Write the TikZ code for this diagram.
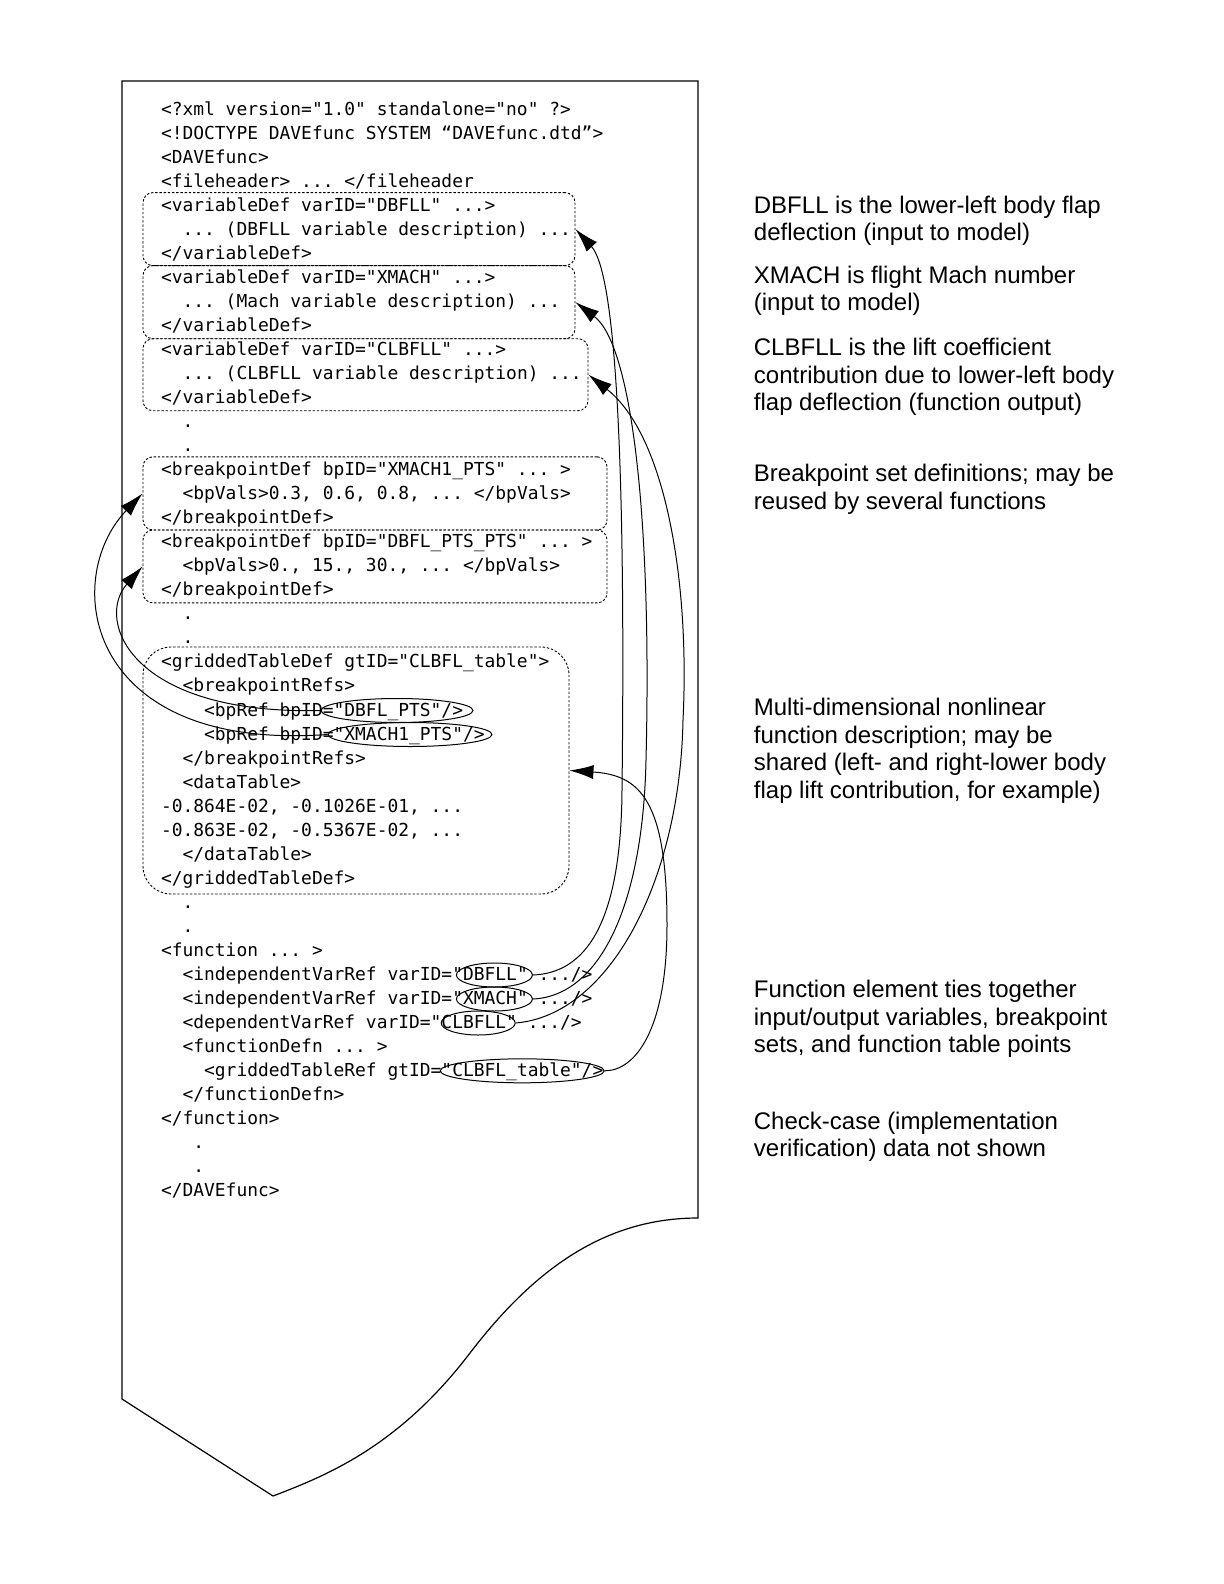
\documentclass[tikz,border=0pt]{standalone}
\usepackage{fontspec}
\setmainfont{Liberation Sans}
\setmonofont{DejaVu Sans Mono}
\usetikzlibrary{positioning,fit,shapes.geometric,arrows.meta}
\newcommand{\ind}[1]{\hspace*{#1\fontcharwd\font`x}}

\begin{document}
\begin{tikzpicture}[%
        x=0.5pt, y=-0.5pt,
        code/.style={font=\ttfamily\fontsize{8.96}{12.01}\selectfont, align=left, inner sep=0pt},
        note/.style={font=\fontsize{12}{13.75}\selectfont, align=left, anchor=base west, inner sep=0pt},
        defbox/.style={draw, rectangle, rounded corners=5pt, dash pattern=on 1.2pt off 0.9pt, line width=0.45pt, inner sep=0pt},
        refell/.style={ellipse, draw, line width=0.5pt, inner sep=0pt, minimum height=12pt},
        link/.style={->, line width=0.5pt},
        >={Latex[length=12pt,width=7pt]}
      ]
      \useasboundingbox[fill=white] (0,0) rectangle (1224,1584);
      % sheet outline
      \draw[line width=0.6pt] (122,81) -- (698,81) -- (698,1218)
        .. controls (606,1218) and (535,1268) .. (470,1353)
        .. controls (399,1446) and (328,1475) .. (273,1496) -- (122,1399) -- cycle;
      % dashed definition boxes
      \node [defbox, fit={(143,192.6) (575,265.6)}] (vdbfll) {};
      \node [defbox, fit={(143,265.6) (575,338.7)}] (vxmach) {};
      \node [defbox, fit={(143,338.7) (588,410.7)}] (vclbfll) {};
      \node [defbox, fit={(143,456.8) (607,530)}] (bpxmach) {};
      \node [defbox, fit={(143,530) (607,602.9)}] (bpdbfl) {};
      \node [defbox, rounded corners=14pt, fit={(143,647) (569,894)}] (gtab) {};
      % the listing, placed by the baseline of its last line
      \node [code, anchor=base west] (listing) at (160.6,1196.4) {%
<?xml version="1.0" standalone="no" ?>\\
<!DOCTYPE DAVEfunc SYSTEM “DAVEfunc.dtd”>\\
<DAVEfunc>\\
<fileheader> ... </fileheader\\
<variableDef varID="DBFLL" ...>\\
\ind{2}... (DBFLL variable description) ...\\
</variableDef>\\
<variableDef varID="XMACH" ...>\\
\ind{2}... (Mach variable description) ...\\
</variableDef>\\
<variableDef varID="CLBFLL" ...>\\
\ind{2}... (CLBFLL variable description) ...\\
</variableDef>\\
\ind{2}.\\
\ind{2}.\\
<breakpointDef bpID="XMACH1\_PTS" ... >\\
\ind{2}<bpVals>0.3, 0.6, 0.8, ... </bpVals>\\
</breakpointDef>\\
<breakpointDef bpID="DBFL\_PTS\_PTS" ... >\\
\ind{2}<bpVals>0., 15., 30., ... </bpVals>\\
</breakpointDef>\\
\ind{2}.\\
\ind{2}.\\
<griddedTableDef gtID="CLBFL\_table">\\
\ind{2}<breakpointRefs>\\
\ind{4}<bpRef bpID="DBFL\_PTS"/>\\
\ind{4}<bpRef bpID="XMACH1\_PTS"/>\\
\ind{2}</breakpointRefs>\\
\ind{2}<dataTable>\\
-0.864E-02, -0.1026E-01, ...\\
-0.863E-02, -0.5367E-02, ...\\
\ind{2}</dataTable>\\
</griddedTableDef>\\
\ind{2}.\\
\ind{2}.\\
<function ... >\\
\ind{2}<independentVarRef varID="DBFLL" .../>\\
\ind{2}<independentVarRef varID="XMACH" .../>\\
\ind{2}<dependentVarRef varID="CLBFLL" .../>\\
\ind{2}<functionDefn ... >\\
\ind{4}<griddedTableRef gtID="CLBFL\_table"/>\\
\ind{2}</functionDefn>\\
</function>\\
\ind{3}.\\
\ind{3}.\\
</DAVEfunc>};
      % rings round the references
      \node [refell, minimum width=76pt] (rdbflpts) at (397,710.5) {};
      \node [refell, minimum width=82pt] (rxmpts) at (410,734.5) {};
      \node [refell, minimum width=38pt] (rdbfll) at (494.4,975) {};
      \node [refell, minimum width=38pt] (rxmach) at (494.4,999) {};
      \node [refell, minimum width=37pt] (rclbfll) at (478.2,1023) {};
      \node [refell, minimum width=82pt] (rtable) at (522.2,1070.8) {};
      % notes, placed by the baseline of their last line
      \node [note] (ndbfll) at (753.5,240.5) {DBFLL is the lower-left body flap\\deflection (input to model)};
      \node [note] (nxmach) at (753.5,310.5) {XMACH is flight Mach number\\(input to model)};
      \node [note] (nclbfll) at (753.5,410.5) {CLBFLL is the lift coefficient\\contribution due to lower-left body\\flap deflection (function output)};
      \node [note] (nbp) at (753.5,509.1) {Breakpoint set definitions; may be\\reused by several functions};
      \node [note] (ngt) at (753.5,798.4) {Multi-dimensional nonlinear\\function description; may be\\shared (left- and right-lower body\\flap lift contribution, for example)};
      \node [note] (nfn) at (753.5,1052.7) {Function element ties together\\input/output variables, breakpoint\\sets, and function table points};
      \node [note] (ncc) at (753.5,1156.5) {Check-case (implementation\\verification) data not shown};
      % links
      \draw [link] (rdbfll.east) .. controls (585,973) and (621,925) .. (622,790)
        .. controls (626,450) and (615,272) .. (vdbfll.east);
      \draw [link] (rxmach.east) .. controls (600,996) and (643,905) .. (646,760)
        .. controls (652,520) and (632,345) .. (vxmach.east);
      \draw [link] (rclbfll.east) .. controls (610,1015) and (680,880) .. (683,720)
        .. controls (690,580) and (665,435) .. (vclbfll.east);
      \draw [link] (rtable.east) .. controls (635,1071) and (667,1030) .. (667,925)
        .. controls (667,800) and (640,775) .. (gtab.east);
      \draw [link] (rdbflpts.west) .. controls (130,715) and (95,620) .. (bpdbfl.west);
      \draw [link] (rxmpts.west) .. controls (85,752) and (60,580) .. (bpxmach.west);
    \end{tikzpicture}
\end{document}
